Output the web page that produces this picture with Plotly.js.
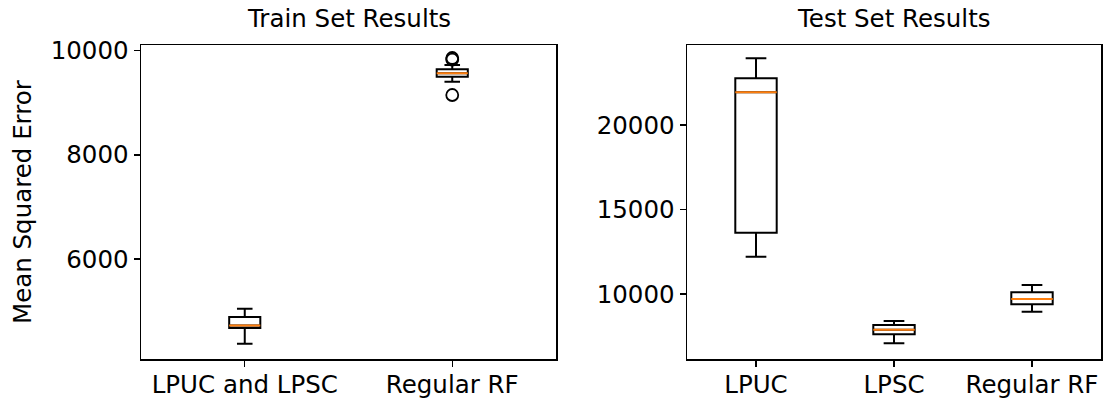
<!DOCTYPE html>
<html><head><meta charset="utf-8">
<script src="https://cdn.plot.ly/plotly-3.0.1.min.js"></script>
<style>html,body{margin:0;padding:0;background:#fff}#chart{width:1103px;height:404px}</style>
</head><body><div id="chart"></div>
<script>
// ---- Train set data ----
const trainCategories = ["LPUC and LPSC", "Regular RF"];
const trainLowerWhisker = [4375, 9405];
const trainQ1 = [4676, 9501];
const trainMedian = [4726, 9567];
const trainQ3 = [4887, 9643];
const trainUpperWhisker = [5046, 9726];
const trainOutlierCategory = ["Regular RF", "Regular RF", "Regular RF"];
const trainOutliers = [9860, 9830, 9150];

// ---- Test set data ----
const testCategories = ["LPUC", "LPSC", "Regular RF"];
const testLowerWhisker = [12211, 7084, 8955];
const testQ1 = [13632, 7617, 9393];
const testMedian = [21944, 7890, 9707];
const testQ3 = [22772, 8168, 10104];
const testUpperWhisker = [23956, 8405, 10536];

const trainTicks = [6000, 8000, 10000];
const testTicks = [10000, 15000, 20000];

const FONT = "DejaVu Sans, sans-serif";
const FS = 24.5;
const pos = cats => cats.map((c, i) => i + 1);

function boxTrace(cats, lo, q1, med, q3, hi, width, xa, ya) {
  return {
    type: "box", x: pos(cats), q1: q1, median: med, q3: q3,
    lowerfence: lo, upperfence: hi, width: width, whiskerwidth: 0.5,
    line: {color: "#000000", width: 2}, fillcolor: "rgba(255,255,255,0)",
    boxpoints: false, xaxis: xa, yaxis: ya, hoverinfo: "skip", showlegend: false
  };
}
function medianTrace(cats, med, width, xa, ya) {
  return {
    type: "box", x: pos(cats), q1: med, median: med, q3: med,
    lowerfence: med, upperfence: med, width: width, whiskerwidth: 0,
    line: {color: "#ff7f0e", width: 2}, fillcolor: "rgba(255,255,255,0)",
    boxpoints: false, xaxis: xa, yaxis: ya, hoverinfo: "skip", showlegend: false
  };
}

const traces = [
  boxTrace(trainCategories, trainLowerWhisker, trainQ1, trainMedian, trainQ3, trainUpperWhisker, 0.15, "x", "y"),
  medianTrace(trainCategories, trainMedian, 0.15, "x", "y"),
  {
    type: "scatter", mode: "markers",
    x: trainOutlierCategory.map(c => trainCategories.indexOf(c) + 1), y: trainOutliers,
    marker: {symbol: "circle-open", size: 12, color: "#000000", line: {width: 1.8, color: "#000000"}},
    xaxis: "x", yaxis: "y", showlegend: false, hoverinfo: "skip"
  },
  boxTrace(testCategories, testLowerWhisker, testQ1, testMedian, testQ3, testUpperWhisker, 0.3, "x2", "y2"),
  medianTrace(testCategories, testMedian, 0.3, "x2", "y2")
];

const axisCommon = {
  showline: true, mirror: true, linecolor: "#000000", linewidth: 1.5,
  ticks: "outside", ticklen: 6, tickwidth: 1.4, tickcolor: "#000000",
  showgrid: false, zeroline: false,
  tickfont: {family: FONT, size: FS, color: "#000000"}
};

const layout = {
  width: 1103, height: 404,
  margin: {l: 0, r: 0, t: 0, b: 0},
  paper_bgcolor: "#ffffff", plot_bgcolor: "#ffffff",
  boxmode: "overlay",
  showlegend: false,
  xaxis: Object.assign({}, axisCommon, {
    domain: [141/1103, 556/1103], range: [0.5, 2.5], ticklabelstandoff: -3,
    tickvals: pos(trainCategories), ticktext: trainCategories, anchor: "y"
  }),
  yaxis: Object.assign({}, axisCommon, {
    domain: [45/404, 359/404], range: [4082, 10110],
    tickvals: trainTicks, ticktext: trainTicks.map(String), anchor: "x"
  }),
  xaxis2: Object.assign({}, axisCommon, {
    domain: [687/1103, 1101/1103], range: [0.5, 3.5], ticklabelstandoff: -3,
    tickvals: pos(testCategories), ticktext: testCategories, anchor: "y2"
  }),
  yaxis2: Object.assign({}, axisCommon, {
    domain: [45/404, 359/404], range: [6155, 24745],
    tickvals: testTicks, ticktext: testTicks.map(String), anchor: "x2"
  }),
  annotations: [
    {text: "Train Set Results", xref: "paper", yref: "paper",
     x: (141 + 556) / 2 / 1103, y: (404 - 18) / 404, xanchor: "center", yanchor: "middle",
     showarrow: false, font: {family: FONT, size: FS, color: "#000000"}},
    {text: "Test Set Results", xref: "paper", yref: "paper",
     x: (687 + 1101) / 2 / 1103, y: (404 - 18) / 404, xanchor: "center", yanchor: "middle",
     showarrow: false, font: {family: FONT, size: FS, color: "#000000"}},
    {text: "Mean Squared Error", xref: "paper", yref: "paper",
     x: 22 / 1103, y: (404 - 202) / 404, xanchor: "center", yanchor: "middle", textangle: -90,
     showarrow: false, font: {family: FONT, size: FS, color: "#000000"}}
  ]
};

Plotly.newPlot("chart", traces, layout, {displayModeBar: false, staticPlot: true});
</script>
</body></html>
